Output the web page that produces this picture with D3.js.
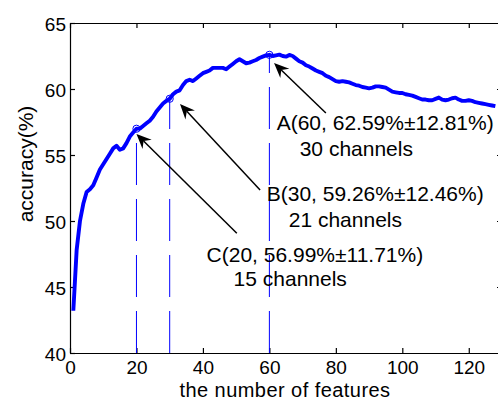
<!DOCTYPE html>
<html>
<head>
  <meta charset="utf-8">
  <title>accuracy vs number of features</title>
  <script src="https://d3js.org/d3.v7.min.js"></script>
  <style>
    body { margin: 0; background: #fff; }
    svg { display: block; font-family: Arial, "Liberation Sans", sans-serif; }
    .axis path, .axis line { stroke: #000; stroke-width: 1.2px; }
    .axis text { font-size: 19px; fill: #000; }
    .curve { fill: none; stroke: #0000ff; stroke-width: 3.9px; stroke-linejoin: round; }
    .guide { stroke: #0000ff; stroke-width: 1px; stroke-dasharray: 42,14; }
    .marker { fill: none; stroke: #0000ff; stroke-width: 1px; }
    .arrow { stroke: #000; stroke-width: 1.5px; }
    .note { font-size: 21px; fill: #000; }
    .title { font-size: 20px; letter-spacing: 0.45px; fill: #000; }
  </style>
</head>
<body>
<svg id="chart" width="498" height="401"></svg>
<script>
// mean accuracy (%) for 1..128 selected features
const accuracy = [
  43.2, 47.8, 50.0, 51.3, 52.2, 52.4, 52.7, 53.3, 53.9, 54.3,
  54.7, 55.1, 55.5, 55.7, 55.4, 55.5, 55.9, 56.4, 56.7, 56.99,
  57.0, 57.2, 57.4, 57.6, 57.9, 58.3, 58.6, 58.9, 59.1, 59.26,
  59.6, 59.8, 59.9, 60.3, 60.6, 60.7, 60.6, 60.8, 61.0, 61.2,
  61.3, 61.4, 61.6, 61.6, 61.6, 61.6, 61.5, 61.7, 61.9, 62.1,
  62.25, 62.1, 61.95, 62.0, 62.1, 62.2, 62.35, 62.45, 62.55, 62.59,
  62.5, 62.55, 62.6, 62.5, 62.45, 62.58, 62.5, 62.3, 62.1, 62.0,
  61.8, 61.7, 61.55, 61.4, 61.3, 61.2, 61.0, 60.9, 60.75, 60.6,
  60.55, 60.6, 60.55, 60.5, 60.4, 60.3, 60.25, 60.15, 60.1, 60.05,
  60.1, 60.2, 60.2, 60.15, 60.1, 59.95, 59.8, 59.75, 59.7, 59.7,
  59.6, 59.55, 59.5, 59.4, 59.3, 59.2, 59.2, 59.15, 59.15, 59.25,
  59.35, 59.2, 59.15, 59.2, 59.3, 59.35, 59.2, 59.1, 59.1, 59.15,
  59.1, 59.0, 58.95, 58.9, 58.85, 58.8, 58.75, 58.7
];
const featureCount = accuracy.map((_, i) => i + 1);

const xTicks = [0, 20, 40, 60, 80, 100, 120];
const yTicks = [40, 45, 50, 55, 60, 65];

// highlighted points
const pointNames = ["A", "B", "C"];
const pointFeatures = [60, 30, 20];
const pointAcc = [62.59, 59.26, 56.99];
const pointStd = [12.81, 12.46, 11.71];
const pointChannels = [30, 21, 15];

// annotation arrows and labels, in data units
const arrowTip = [[61.4, 61.97], [33.1, 58.86], [20.0, 56.6]];
const arrowTail = [[77.0, 58.18], [57.2, 52.35], [50.2, 49.07]];
const labelAt = [[62.2, 56.86], [59.2, 51.48], [41.1, 46.92]];
const secondLineDx = [23, 22, 27];
const secondLineDy = [26, 26, 24];

const svg = d3.select("#chart");
const mLeft = 70, mRight = 502, mTop = 23, mBottom = 353;

const x = d3.scaleLinear().domain([0, 130]).range([mLeft, mRight]);
const y = d3.scaleLinear().domain([40, 65]).range([mBottom, mTop]);

// axes box with inward ticks
svg.append("g").attr("class", "axis")
  .attr("transform", `translate(0,${mBottom})`)
  .call(d3.axisBottom(x).tickValues(xTicks).tickSizeInner(-5).tickSizeOuter(0).tickPadding(7.5))
  .selectAll("text").attr("dy", "0.71em");
svg.append("g").attr("class", "axis")
  .attr("transform", `translate(0,${mTop})`)
  .call(d3.axisTop(x).tickValues(xTicks).tickSizeInner(-5).tickSizeOuter(0).tickFormat(""));
svg.append("g").attr("class", "axis")
  .attr("transform", `translate(${mLeft},0)`)
  .call(d3.axisLeft(y).tickValues(yTicks).tickSizeInner(-5).tickSizeOuter(0).tickPadding(4))
  .selectAll("text").attr("dy", "0.4em");
svg.append("g").attr("class", "axis")
  .attr("transform", `translate(${mRight},0)`)
  .call(d3.axisRight(y).tickValues(yTicks).tickSizeInner(-5).tickSizeOuter(0).tickFormat(""));
svg.selectAll(".axis text")
  .attr("font-family", null).attr("font-size", null)
  .style("font-family", "Arial, 'Liberation Sans', sans-serif");

// dashed guides from the highlighted points down to the x axis
svg.selectAll(".guide")
  .data(pointFeatures)
  .enter().append("line")
  .attr("class", "guide")
  .attr("x1", d => x(d)).attr("x2", d => x(d))
  .attr("y1", y(40)).attr("y2", (d, i) => y(pointAcc[i]));

// the accuracy curve
const line = d3.line().x((d, i) => x(featureCount[i])).y(d => y(d));
svg.append("path").datum(accuracy).attr("class", "curve").attr("d", line);

svg.selectAll(".marker")
  .data(pointFeatures)
  .enter().append("circle")
  .attr("class", "marker")
  .attr("cx", d => x(d)).attr("cy", (d, i) => y(pointAcc[i]))
  .attr("r", 3.6);

// arrows with notched heads
function arrowHead(tx, ty, sx, sy) {
  const a = Math.atan2(ty - sy, tx - sx);
  const len = 15, half = 6.5, notch = 10;
  const bx = tx - len * Math.cos(a), by = ty - len * Math.sin(a);
  const nx = tx - notch * Math.cos(a), ny = ty - notch * Math.sin(a);
  const px = -Math.sin(a) * half, py = Math.cos(a) * half;
  return `M${tx},${ty}L${bx + px},${by + py}L${nx},${ny}L${bx - px},${by - py}Z`;
}
arrowTip.forEach((tip, i) => {
  const tx = x(tip[0]), ty = y(tip[1]);
  const sx = x(arrowTail[i][0]), sy = y(arrowTail[i][1]);
  const a = Math.atan2(ty - sy, tx - sx);
  svg.append("line").attr("class", "arrow")
    .attr("x1", sx).attr("y1", sy)
    .attr("x2", tx - 10 * Math.cos(a)).attr("y2", ty - 10 * Math.sin(a));
  svg.append("path").attr("d", arrowHead(tx, ty, sx, sy)).attr("fill", "#000");
});

// labels
pointNames.forEach((name, i) => {
  const t = svg.append("text").attr("class", "note")
    .attr("x", x(labelAt[i][0])).attr("y", y(labelAt[i][1]));
  t.append("tspan")
    .text(`${name}(${pointFeatures[i]}, ${pointAcc[i].toFixed(2)}%\u00b1${pointStd[i].toFixed(2)}%)`);
  t.append("tspan")
    .attr("x", x(labelAt[i][0]) + secondLineDx[i]).attr("dy", secondLineDy[i])
    .text(`${pointChannels[i]} channels`);
});

// axis titles
svg.append("text").attr("class", "title")
  .attr("x", 285).attr("y", 396.5).attr("text-anchor", "middle")
  .text("the number of features");
svg.append("text").attr("class", "note")
  .attr("transform", "translate(33,164) rotate(-90)").attr("text-anchor", "middle")
  .text("accuracy(%)");
</script>
</body>
</html>
